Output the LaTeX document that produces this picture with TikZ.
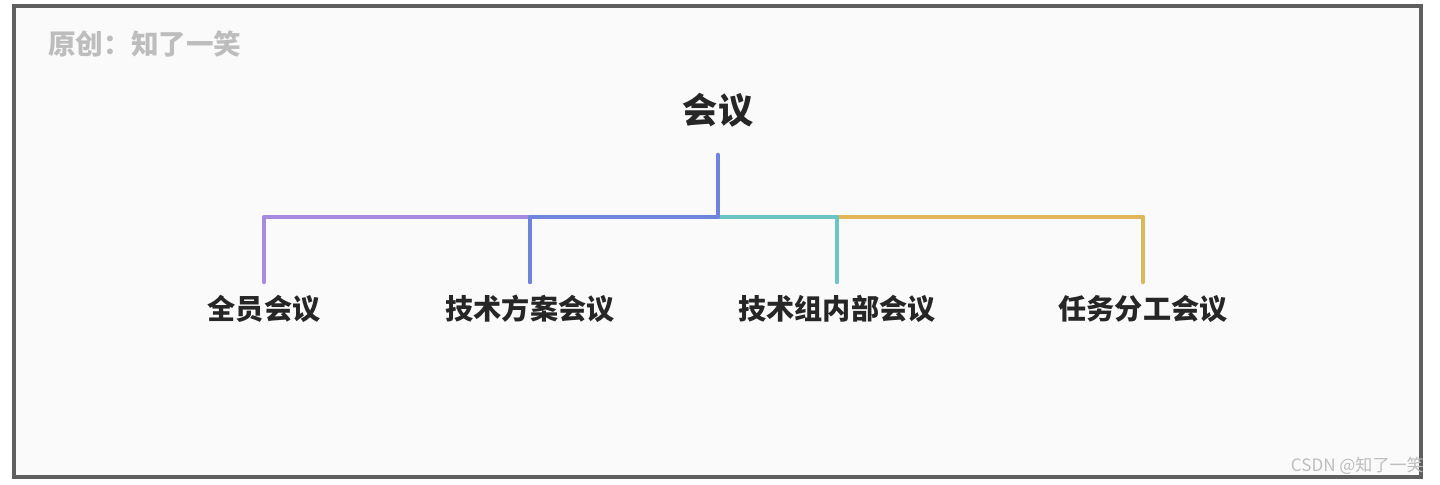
\documentclass[tikz,border=0pt]{standalone}
\usepackage{fontspec}
\newfontfamily\cjk{Noto Sans CJK SC}
\usetikzlibrary{positioning}
\definecolor{bggrey}{HTML}{FAFAFA}
\definecolor{framegrey}{HTML}{5F5F5F}
\definecolor{markgrey}{HTML}{BDBDBD}
\definecolor{lpurple}{HTML}{A58BE0}
\definecolor{lblue}{HTML}{6F84DD}
\definecolor{lteal}{HTML}{6CC4C4}
\definecolor{lgold}{HTML}{E0B65A}
\begin{document}
\begin{tikzpicture}[x=0.02cm,y=-0.02cm]
\tikzstyle{root}=[font=\cjk\bfseries\fontsize{20}{22}\selectfont,text=black!85,inner sep=0pt]
\tikzstyle{leaf}=[font=\cjk\bfseries\fontsize{16}{18}\selectfont,text=black!85,inner sep=0pt]
\tikzstyle{branch}=[line width=2.6pt,line cap=round,line join=round]
\useasboundingbox (0,0) rectangle (1440,484);
\fill [white] (0,0) rectangle (1440,484);
\draw [fill=bggrey,draw=framegrey,line width=2.2pt] (14,6) rectangle (1421,477);
\node [font=\cjk\bfseries\fontsize{15.7}{17}\selectfont,text=markgrey,anchor=west,inner sep=0pt] at (48,44) (mark) {原创：知了一笑};
\node [font=\cjk\fontsize{9.7}{11}\selectfont,text=markgrey,anchor=east,inner sep=0pt] at (1424,466) (csdn) {CSDN @知了一笑};
\node [root] at (718,110) (meet) {会议};
\coordinate (top) at (718,155);
\coordinate (hub) at (718,217);
\node [leaf] at (264,309) (all) {全员会议};
\node [leaf] at (530,309) (tech) {技术方案会议};
\node [leaf] at (837,309) (team) {技术组内部会议};
\node [leaf] at (1143,309) (task) {任务分工会议};
\coordinate (a1) at (264,217); \coordinate (a2) at (264,282);
\coordinate (b1) at (530,217); \coordinate (b2) at (530,282);
\coordinate (c1) at (837,217); \coordinate (c2) at (837,282);
\coordinate (d1) at (1143,217); \coordinate (d2) at (1143,282);

\draw [branch,lpurple] (a2) -- (a1) -- (b1);
\draw [branch,lgold] (c1) -- (d1) -- (d2);
\draw [branch,lteal] (hub) -- (c1) -- (c2);
\draw [branch,lblue] (top) -- (hub) -- (b1) -- (b2);
\end{tikzpicture}
\end{document}
